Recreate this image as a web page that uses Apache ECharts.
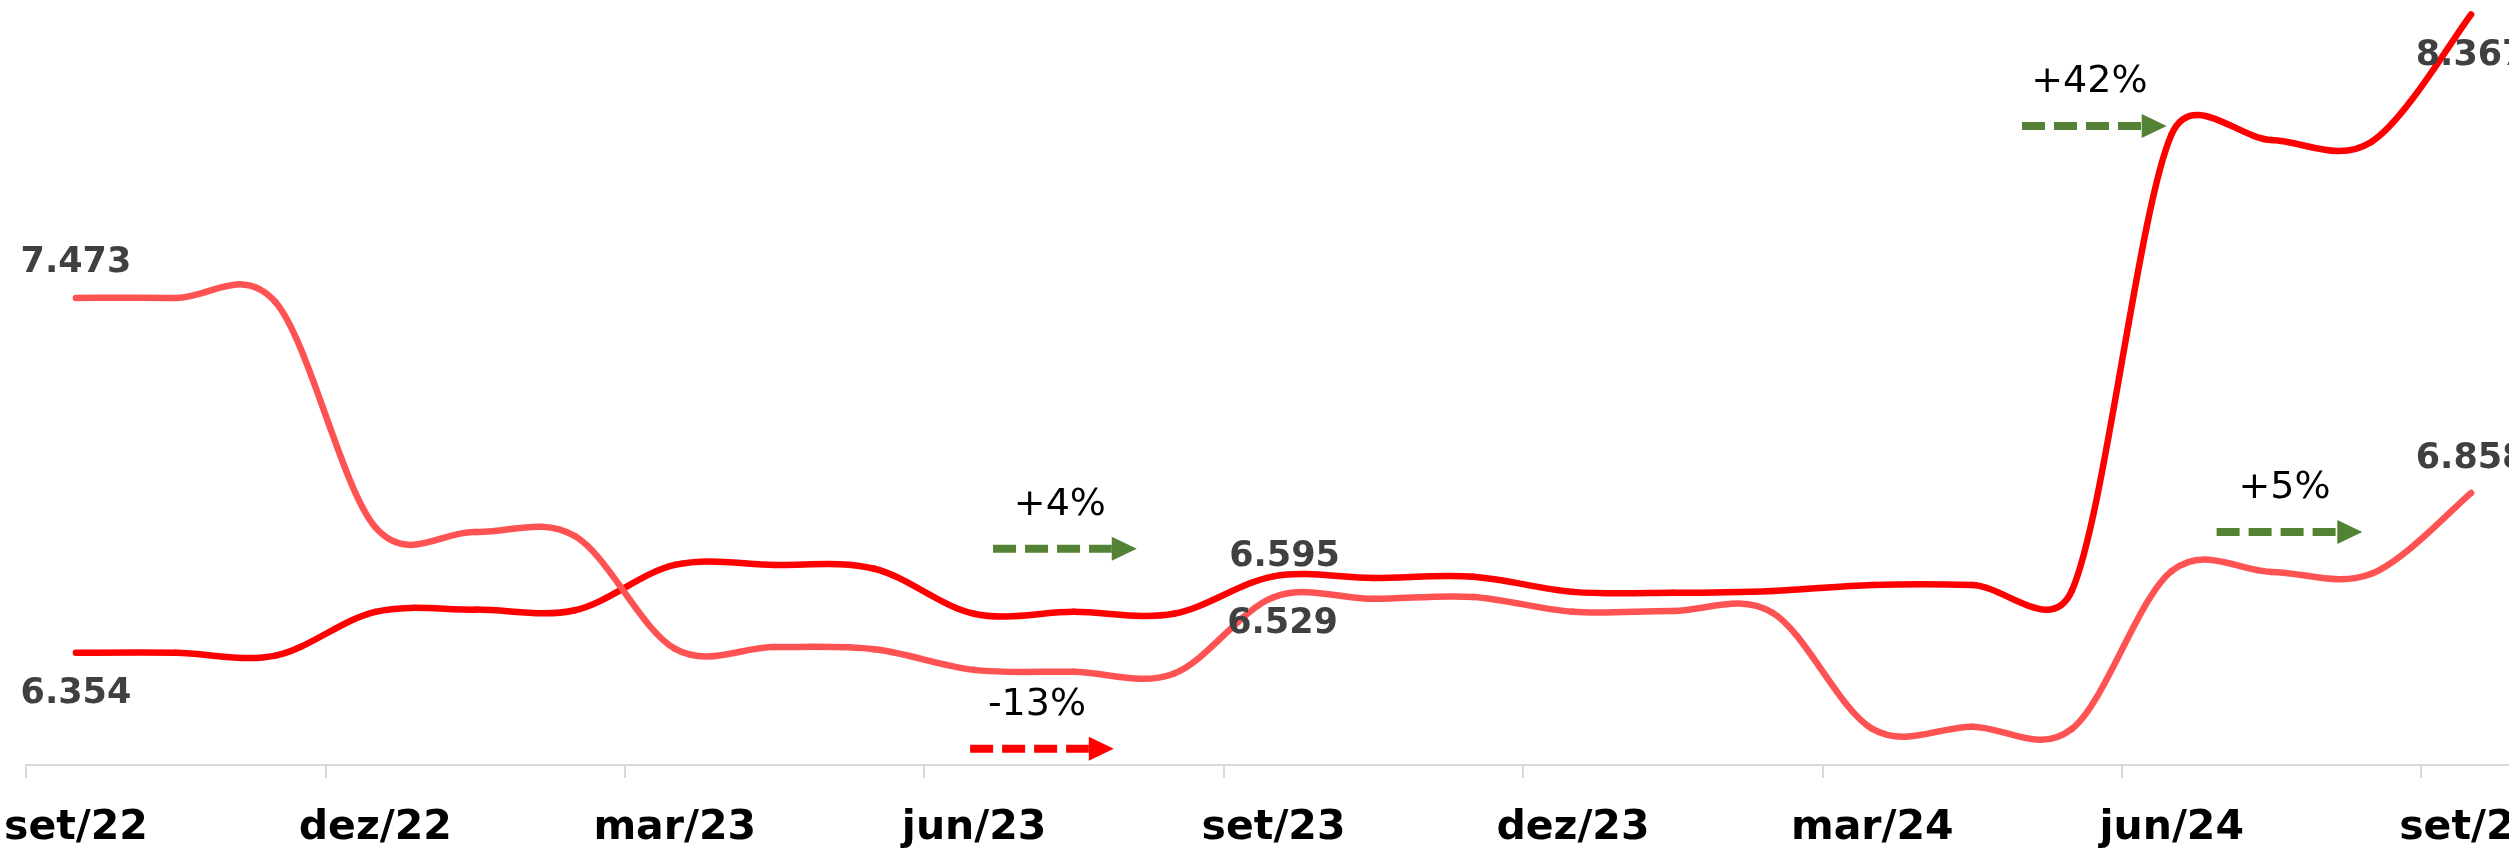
<!DOCTYPE html>
<html>
<head>
<meta charset="utf-8">
<script src="https://cdn.jsdelivr.net/npm/echarts@6/dist/echarts.min.js"></script>
<style>
html,body{margin:0;padding:0;background:#fff;}
#c{width:2509px;height:850px;}
</style>
</head>
<body>
<div id="c"></div>
<script>
// ---- data ----
const categories = ['set/22','out/22','nov/22','dez/22','jan/23','fev/23','mar/23','abr/23','mai/23','jun/23','jul/23','ago/23',
  'set/23','out/23','nov/23','dez/23','jan/24','fev/24','mar/24','abr/24','mai/24','jun/24','jul/24','ago/24','set/24'];
const serieA = [6354, 6354, 6345, 6483, 6490, 6488, 6631, 6631, 6619, 6477, 6483, 6477,
  6595, 6590, 6594, 6546, 6543, 6549, 6568, 6568, 6550, 7990, 7971, 7965, 8367];
const serieB = [7473, 7473, 7460, 6750, 6735, 6722, 6367, 6372, 6365, 6300, 6294, 6288,
  6529, 6524, 6530, 6483, 6486, 6480, 6114, 6121, 6114, 6612, 6609, 6603, 6858];
const labelIndex = [0, 12, 24];
// annotations: text, arrow start/end (category index), arrow level (value)
const annTexts  = ['+4%', '-13%', '+42%', '+5%'];
const annStart  = [9.19, 8.96, 19.50, 21.45];
const annEnd    = [10.63, 10.40, 20.95, 22.91];
const annLevel  = [6682, 6051, 8015, 6735];
const annColors = ['#548235', '#FF0000', '#548235', '#548235'];

// ---- styles ----
const COLOR_A = '#FF0000', COLOR_B = '#FF5353';
const fmt = v => String(v).replace(/\B(?=(\d{3})+(?!\d))/g, '.');
const valueLabel = {fontFamily: 'DejaVu Sans', fontWeight: 'bold', fontSize: 35, color: '#404040'};
const labelPosA = {0: {position: 'bottom', distance: 23}, 12: {position: 'top', distance: 1, offset: [11, 0]}, 24: {position: 'bottom', distance: 23}};
const labelPosB = {0: {position: 'top', distance: 17}, 12: {position: 'bottom', distance: 9, offset: [9, 0]}, 24: {position: 'top', distance: 16}};

function buildData(values, pos) {
  return values.map((v, i) => labelIndex.includes(i)
    ? {value: v, label: Object.assign({show: true, formatter: p => fmt(p.value)}, valueLabel, pos[i])}
    : v);
}

// Excel-like smoothed curve (Bezier with neighbour tangents, limited to half the segment)
function smoothRenderer(color, n) {
  return function (params, api) {
    const i = params.dataIndex;
    if (i >= n - 1) return null;
    const P = j => {
      const jj = Math.max(0, Math.min(n - 1, j));
      return api.coord([api.value(0, jj), api.value(1, jj)]);
    };
    const p0 = P(i - 1), p1 = P(i), p2 = P(i + 1), p3 = P(i + 2);
    const seg = Math.hypot(p2[0] - p1[0], p2[1] - p1[1]);
    const ctl = (a, b) => {
      let vx = (b[0] - a[0]) / 6, vy = (b[1] - a[1]) / 6;
      const len = Math.hypot(vx, vy), lim = seg / 2;
      if (len > lim && len > 0) { vx *= lim / len; vy *= lim / len; }
      return [vx, vy];
    };
    const t1 = ctl(p0, p2), t2 = ctl(p1, p3);
    return {
      type: 'bezierCurve',
      shape: {
        x1: p1[0], y1: p1[1], x2: p2[0], y2: p2[1],
        cpx1: p1[0] + t1[0], cpy1: p1[1] + t1[1],
        cpx2: p2[0] - t2[0], cpy2: p2[1] - t2[1]
      },
      style: {stroke: color, lineWidth: 6.5, fill: null, lineCap: 'round'}
    };
  };
}

const chart = echarts.init(document.getElementById('c'));
chart.setOption({
  animation: false,
  grid: {left: 26, top: 4, width: 2495, height: 761, containLabel: false, outerBoundsMode: 'none'},
  xAxis: {
    type: 'category', data: categories, boundaryGap: true,
    axisLine: {lineStyle: {color: '#d9d9d9', width: 2}},
    axisTick: {show: true, interval: 2, length: 13, lineStyle: {color: '#d9d9d9', width: 2}},
    axisLabel: {interval: 2, margin: 43, fontFamily: 'DejaVu Sans', fontWeight: 'bold', fontSize: 41, color: '#000'},
    splitLine: {show: false}
  },
  yAxis: {type: 'value', min: 6000, max: 8400, show: false, splitLine: {show: false}},
  series: [
    {
      name: 'Série A', type: 'custom', renderItem: smoothRenderer(COLOR_A, serieA.length),
      data: serieA.map((v, i) => [i, v]), encode: {x: 0, y: 1}, z: 2, silent: true
    },
    {
      name: 'Série B', type: 'custom', renderItem: smoothRenderer(COLOR_B, serieB.length),
      data: serieB.map((v, i) => [i, v]), encode: {x: 0, y: 1}, z: 3, silent: true
    },
    {
      name: 'Série A rótulos', type: 'line', data: buildData(serieA, labelPosA),
      symbol: 'circle', symbolSize: 1, itemStyle: {color: 'rgba(0,0,0,0)'},
      lineStyle: {opacity: 0, width: 0}, label: {show: false}, z: 4, silent: true
    },
    {
      name: 'Série B rótulos', type: 'line', data: buildData(serieB, labelPosB),
      symbol: 'circle', symbolSize: 1, itemStyle: {color: 'rgba(0,0,0,0)'},
      lineStyle: {opacity: 0, width: 0}, label: {show: false}, z: 4, silent: true
    }
  ]
});

function px(idx, val) {
  const i0 = Math.floor(idx), f = idx - i0;
  const a = chart.convertToPixel({gridIndex: 0}, [i0, val]);
  const b = chart.convertToPixel({gridIndex: 0}, [i0 + 1, val]);
  return [a[0] + f * (b[0] - a[0]), a[1]];
}

const graphics = [];
annTexts.forEach((t, k) => {
  const s = px(annStart[k], annLevel[k]);
  const e = px(annEnd[k], annLevel[k]);
  const headLen = 25, headHalf = 12;
  const hx = e[0] - headLen;
  const y = s[1];
  graphics.push({type: 'line', silent: true,
    shape: {x1: s[0], y1: y, x2: hx, y2: y},
    style: {stroke: annColors[k], lineWidth: 8, lineDash: [23, 9]}});
  graphics.push({type: 'polygon', silent: true,
    shape: {points: [[hx, y - headHalf], [e[0], y], [hx, y + headHalf]]},
    style: {fill: annColors[k]}});
  graphics.push({type: 'text', silent: true, x: (s[0] + e[0]) / 2 - 5, y: y - 44,
    style: {text: t, font: '38px "DejaVu Sans"', fill: '#000', align: 'center', verticalAlign: 'middle'}});
});
chart.setOption({graphic: graphics});
</script>
</body>
</html>
